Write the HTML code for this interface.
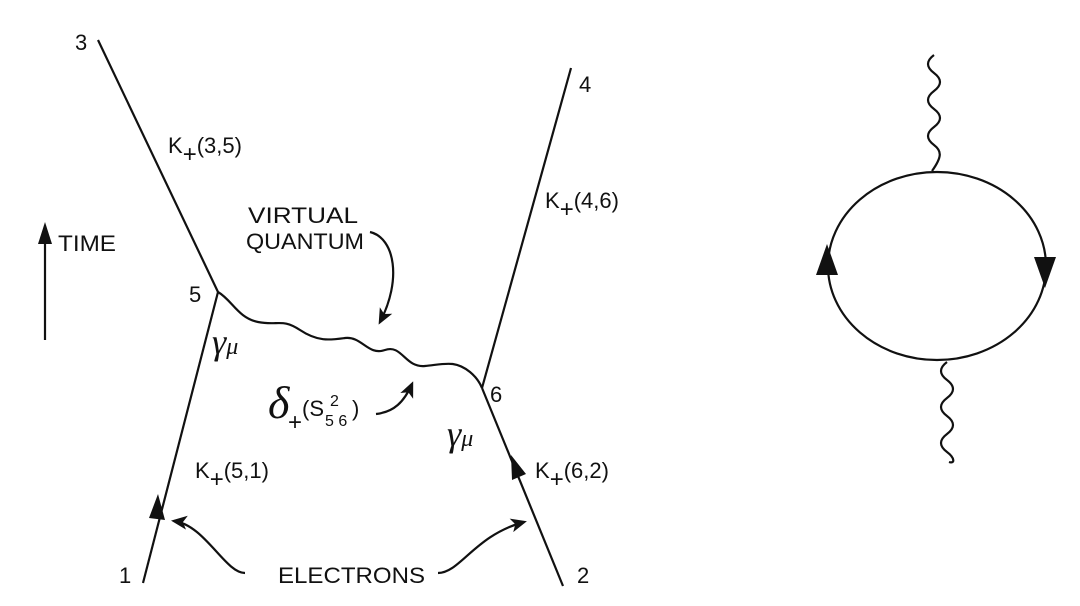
<!DOCTYPE html>
<html><head><meta charset="utf-8"><style>html,body{margin:0;padding:0;background:#fff}svg{display:block}</style></head>
<body>
<svg width="1080" height="606" viewBox="0 0 1080 606" xmlns="http://www.w3.org/2000/svg" font-family="Liberation Sans, sans-serif" fill="#111">
<defs>
<marker id="ah" markerWidth="16" markerHeight="16" refX="13" refY="8" orient="auto" markerUnits="userSpaceOnUse"><path d="M0,1 L16,8 L0,15 L4,8 z" fill="#111"/></marker>
</defs>
<g stroke="#111" stroke-width="2.2" fill="none">
<line x1="98" y1="40" x2="218" y2="292"/>
<line x1="143" y1="583" x2="218" y2="292"/>
<line x1="571" y1="68" x2="482" y2="388"/>
<line x1="482" y1="388" x2="563" y2="586"/>
<path d="M218,292 C232,300 238,318 258,322 C278,326 282,318 300,330 C318,342 330,340 345,338 C362,336 368,356 385,350 C402,344 405,368 425,366 C445,364 455,360 470,372 C476,377 480,383 482,388"/>
<line x1="45" y1="340" x2="45" y2="240"/>
<path d="M370,232 C395,238 402,280 380,322" marker-end="url(#ah)"/>
<path d="M376,414 C394,412 404,402 412,384" marker-end="url(#ah)"/>
<path d="M245,573 C225,573 205,525 174,521" marker-end="url(#ah)"/>
<path d="M438,573 C460,573 475,535 524,522" marker-end="url(#ah)"/>
<ellipse cx="937" cy="266" rx="109" ry="94"/>
<path d="M934,55 c-8,6 -8,12 0,18 c8,6 8,12 0,18 c-8,6 -8,12 0,18 c8,6 8,12 0,18 c-8,6 -8,12 0,18 c8,6 8,12 -2,26"/>
<path d="M947,362 c-8,6 -8,12 0,18 c8,6 8,12 0,18 c-8,6 -8,12 0,18 c8,6 8,12 0,18 c-8,6 -8,12 0,18 c8,6 8,12 2,10"/>
</g>
<path d="M45,222 L38,244 L52,244 z"/>
<path d="M158,494 L149,518 L165,520 z"/>
<path d="M511,455 L512,480 L526,474 z"/>
<path d="M827,244 L816,275 L838,275 z"/>
<path d="M1045,288 L1034,257 L1056,257 z"/>
<g font-size="22">
<text x="75" y="50">3</text>
<text x="579" y="92">4</text>
<text x="119" y="583">1</text>
<text x="577" y="583">2</text>
<text x="189" y="302">5</text>
<text x="490" y="402">6</text>
<text x="58" y="251" textLength="58" lengthAdjust="spacingAndGlyphs">TIME</text>
<text x="248" y="223" textLength="110" lengthAdjust="spacingAndGlyphs">VIRTUAL</text>
<text x="246" y="249" textLength="118" lengthAdjust="spacingAndGlyphs">QUANTUM</text>
<text x="278" y="583" textLength="147" lengthAdjust="spacingAndGlyphs">ELECTRONS</text>
<text x="168" y="153">K<tspan font-size="24" dy="9">+</tspan><tspan dy="-9">(3,5)</tspan></text>
<text x="545" y="208">K<tspan font-size="24" dy="9">+</tspan><tspan dy="-9">(4,6)</tspan></text>
<text x="195" y="478">K<tspan font-size="24" dy="9">+</tspan><tspan dy="-9">(5,1)</tspan></text>
<text x="535" y="478">K<tspan font-size="24" dy="9">+</tspan><tspan dy="-9">(6,2)</tspan></text>
</g>
<g font-family="Liberation Serif, serif" font-style="italic">
<text x="212" y="354" font-size="36">γ<tspan font-size="24">μ</tspan></text>
<text x="447" y="446" font-size="36">γ<tspan font-size="24">μ</tspan></text>
<text x="268" y="418" font-size="46">δ</text>
</g>
<g>
<text x="288" y="430" font-size="24">+</text>
<text x="302" y="416" font-size="22">(S</text>
<text x="330" y="406" font-size="16">2</text>
<text x="325" y="426" font-size="16">5 6</text>
<text x="352" y="416" font-size="22">)</text>
</g>
</svg>
</body></html>
